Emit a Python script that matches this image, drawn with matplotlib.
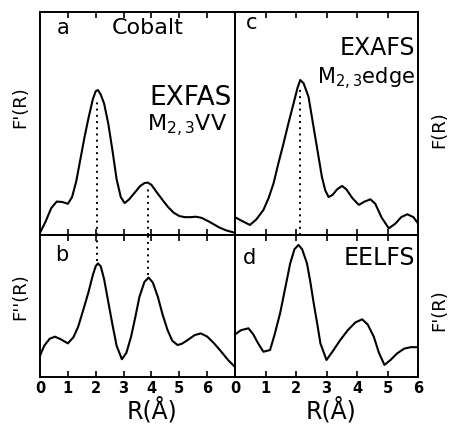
import numpy as np
import matplotlib
matplotlib.use("Agg")
import matplotlib.pyplot as plt

plt.rcParams['font.family'] = ['DejaVu Sans']
plt.rcParams['mathtext.default'] = 'regular'

# panel a: EXFAS M2,3VV (R in Angstrom, relative height)
r_a = [0.0, 0.2, 0.4, 0.6, 0.8, 1.0, 1.15, 1.3, 1.45, 1.6, 1.75, 1.9, 2.0, 2.08,
       2.18, 2.3, 2.45, 2.6, 2.75, 2.9, 3.04, 3.2, 3.4, 3.6, 3.75, 3.87, 4.0,
       4.2, 4.4, 4.6, 4.8, 5.0, 5.2, 5.4, 5.6, 5.8, 6.07, 6.43, 6.7, 7.0]
f_a = [0.01, 0.06, 0.12, 0.15, 0.148, 0.14, 0.17, 0.24, 0.34, 0.44, 0.53, 0.61,
       0.645, 0.65, 0.63, 0.59, 0.5, 0.38, 0.25, 0.17, 0.143, 0.16, 0.19, 0.22,
       0.233, 0.235, 0.225, 0.19, 0.157, 0.125, 0.1, 0.085, 0.08, 0.08, 0.082,
       0.077, 0.06, 0.034, 0.02, 0.01]

# panel b
r_b = [0.0, 0.15, 0.35, 0.54, 0.75, 1.0, 1.2, 1.37, 1.55, 1.73, 1.9, 2.0, 2.08,
       2.18, 2.3, 2.45, 2.6, 2.75, 2.94, 3.1, 3.27, 3.42, 3.57, 3.75, 3.9, 4.05,
       4.23, 4.4, 4.58, 4.75, 4.94, 5.1, 5.3, 5.55, 5.77, 6.0, 6.25, 6.5, 6.75, 7.0]
f_b = [0.15, 0.22, 0.27, 0.284, 0.265, 0.237, 0.28, 0.354, 0.47, 0.59, 0.72,
       0.78, 0.80, 0.78, 0.69, 0.53, 0.37, 0.22, 0.125, 0.17, 0.284, 0.42, 0.565,
       0.67, 0.70, 0.665, 0.565, 0.44, 0.33, 0.255, 0.225, 0.235, 0.26, 0.295,
       0.307, 0.285, 0.237, 0.18, 0.12, 0.07]

# panel c: EXAFS M2,3 edge
r_c = [0.0, 0.2, 0.49, 0.7, 0.93, 1.1, 1.26, 1.42, 1.59, 1.75, 1.92, 2.05, 2.14,
       2.25, 2.41, 2.52, 2.63, 2.74, 2.85, 2.96, 3.07, 3.2, 3.35, 3.51, 3.65,
       3.85, 4.06, 4.25, 4.44, 4.6, 4.8, 5.04, 5.25, 5.45, 5.65, 5.85, 6.0]
f_c = [0.08, 0.065, 0.045, 0.07, 0.112, 0.165, 0.23, 0.32, 0.41, 0.5, 0.59,
       0.66, 0.695, 0.68, 0.62, 0.53, 0.44, 0.35, 0.26, 0.2, 0.17, 0.18, 0.205,
       0.22, 0.205, 0.165, 0.135, 0.15, 0.16, 0.14, 0.08, 0.03, 0.05, 0.08,
       0.093, 0.08, 0.052]

# panel d: EELFS
r_d = [0.0, 0.2, 0.44, 0.6, 0.75, 0.93, 1.15, 1.3, 1.48, 1.65, 1.81, 1.95, 2.08,
       2.2, 2.36, 2.47, 2.58, 2.7, 2.8, 3.0, 3.2, 3.45, 3.7, 3.95, 4.17, 4.35,
       4.55, 4.72, 4.9, 5.1, 5.32, 5.55, 5.76, 6.0]
f_d = [0.30, 0.33, 0.343, 0.30, 0.24, 0.178, 0.19, 0.3, 0.45, 0.63, 0.80, 0.9,
       0.93, 0.9, 0.80, 0.67, 0.52, 0.37, 0.237, 0.12, 0.18, 0.26, 0.33, 0.385,
       0.406, 0.37, 0.284, 0.17, 0.085, 0.12, 0.167, 0.2, 0.21, 0.21]

# positions of the dotted guide lines
peaks_ab = [2.05, 3.88]
peak_c = 2.12

fig = plt.figure(figsize=(4.5, 4.25), dpi=100)
W, H = 450.0, 425.0
top_y0, mid_y, bot_y = 12, 235, 377
xl0, xmid, xr1 = 40, 235, 418

def box(x0, x1, y0, y1):
    return [x0 / W, 1 - y1 / H, (x1 - x0) / W, (y1 - y0) / H]

ax_a = fig.add_axes(box(xl0, xmid, top_y0, mid_y))
ax_b = fig.add_axes(box(xl0, xmid, mid_y, bot_y))
ax_c = fig.add_axes(box(xmid, xr1, top_y0, mid_y))
ax_d = fig.add_axes(box(xmid, xr1, mid_y, bot_y))

for ax in (ax_a, ax_b, ax_c, ax_d):
    ax.set_ylim(0, 1)
    ax.set_yticks([])
    for s in ax.spines.values():
        s.set_linewidth(1.4)
    ax.tick_params(axis='x', direction='in', top=True, bottom=True,
                   length=4, width=1.2, labelsize=10.5, pad=3)
for ax in (ax_a, ax_b):
    ax.set_xlim(0, 7)
    ax.set_xticks(range(8))
for ax in (ax_c, ax_d):
    ax.set_xlim(0, 6)
    ax.set_xticks(range(7))
for ax in (ax_a, ax_c):
    ax.tick_params(labelbottom=False)
ax_b.set_xticklabels([str(i) for i in range(7)] + [''], fontweight='bold')
ax_d.set_xticklabels([str(i) for i in range(7)], fontweight='bold')

lw = 1.5
ax_a.plot(r_a, f_a, color='black', lw=lw)
ax_b.plot(r_b, f_b, color='black', lw=lw)
ax_c.plot(r_c, f_c, color='black', lw=lw)
ax_d.plot(r_d, f_d, color='black', lw=lw)

dot = dict(color='black', lw=1.4, linestyle=(0, (1, 2.2)))
ax_a.vlines(peaks_ab[0], 0, 0.61, **dot)
ax_a.vlines(peaks_ab[1], 0, 0.21, **dot)
ax_b.vlines(peaks_ab[0], 0.82, 1, **dot)
ax_b.vlines(peaks_ab[1], 0.72, 1, **dot)
ax_c.vlines(peak_c, 0, 0.66, **dot)

ax_a.text(0.12, 0.93, 'a', transform=ax_a.transAxes, fontsize=15, va='center', ha='center')
ax_a.text(0.55, 0.93, 'Cobalt', transform=ax_a.transAxes, fontsize=16, va='center', ha='center')
ax_a.text(0.985, 0.615, 'EXFAS', transform=ax_a.transAxes, fontsize=19, va='center', ha='right')
ax_a.text(0.96, 0.49, 'M$_{2,3}$VV', transform=ax_a.transAxes, fontsize=16, va='center', ha='right')
ax_b.text(0.11, 0.86, 'b', transform=ax_b.transAxes, fontsize=15, va='center', ha='center')
ax_c.text(0.09, 0.95, 'c', transform=ax_c.transAxes, fontsize=15, va='center', ha='center')
ax_c.text(0.985, 0.84, 'EXAFS', transform=ax_c.transAxes, fontsize=17, va='center', ha='right')
ax_c.text(0.985, 0.70, 'M$_{2,3}$edge', transform=ax_c.transAxes, fontsize=15, va='center', ha='right')
ax_d.text(0.08, 0.84, 'd', transform=ax_d.transAxes, fontsize=15, va='center', ha='center')
ax_d.text(0.985, 0.84, 'EELFS', transform=ax_d.transAxes, fontsize=17, va='center', ha='right')

# axis labels
fig.text(20 / W, 1 - 107 / H, "F'(R)", rotation=90, fontsize=13, ha='center', va='center')
fig.text(20 / W, 1 - 297 / H, "F''(R)", rotation=90, fontsize=13, ha='center', va='center')
fig.text(439 / W, 1 - 130 / H, "F(R)", rotation=90, fontsize=13, ha='center', va='center')
fig.text(439 / W, 1 - 310 / H, "F'(R)", rotation=90, fontsize=13, ha='center', va='center')
fig.text(152 / W, 1 - 410 / H, "R(Å)", fontsize=17, ha='center', va='center')
fig.text(331 / W, 1 - 410 / H, "R(Å)", fontsize=17, ha='center', va='center')

fig.savefig('out.png', dpi=100)
